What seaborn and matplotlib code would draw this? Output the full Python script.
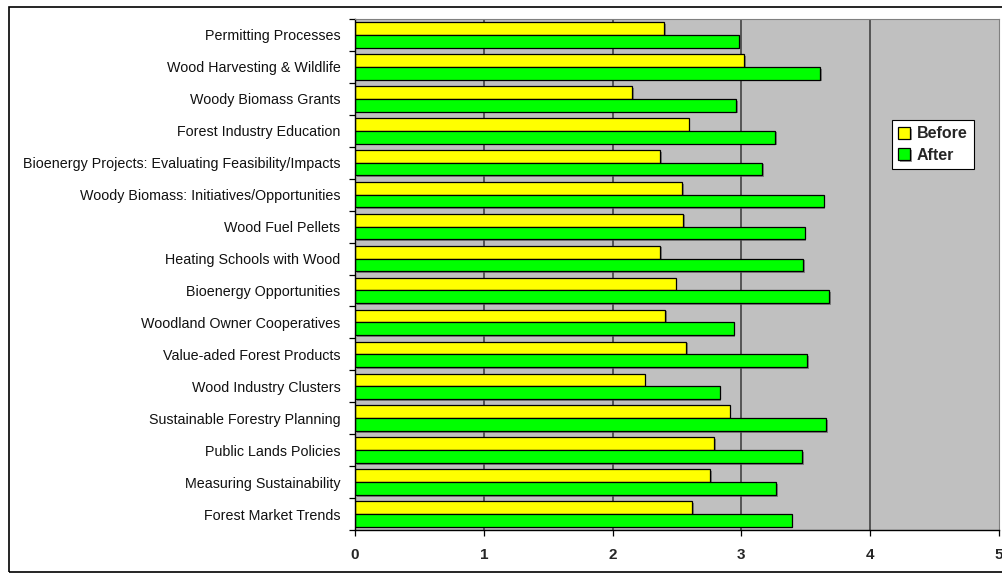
import pandas as pd
import matplotlib
matplotlib.use('Agg')
from matplotlib import pyplot as plt
from matplotlib.patches import Rectangle
from matplotlib.ticker import FixedLocator
import matplotlib.patheffects as pe
import seaborn as sns

# topics, top to bottom
topics = [
    'Permitting Processes',
    'Wood Harvesting & Wildlife',
    'Woody Biomass Grants',
    'Forest Industry Education',
    'Bioenergy Projects: Evaluating Feasibility/Impacts',
    'Woody Biomass: Initiatives/Opportunities',
    'Wood Fuel Pellets',
    'Heating Schools with Wood',
    'Bioenergy Opportunities',
    'Woodland Owner Cooperatives',
    'Value-aded Forest Products',
    'Wood Industry Clusters',
    'Sustainable Forestry Planning',
    'Public Lands Policies',
    'Measuring Sustainability',
    'Forest Market Trends',
]
before = [2.40, 3.02, 2.15, 2.59, 2.37, 2.54, 2.55, 2.37,
          2.49, 2.41, 2.57, 2.25, 2.91, 2.79, 2.76, 2.62]
after = [2.98, 3.61, 2.96, 3.26, 3.16, 3.64, 3.49, 3.48,
         3.68, 2.94, 3.51, 2.83, 3.66, 3.47, 3.27, 3.39]
x_ticks = [0, 1, 2, 3, 4, 5]

df = pd.DataFrame({
    'topic': topics * 2,
    'score': before + after,
    'when': ['Before'] * len(topics) + ['After'] * len(topics),
})

sns.set_style('white')
plt.rcParams['font.family'] = ['Liberation Sans', 'DejaVu Sans']

fig = plt.figure(figsize=(10.02, 5.77), dpi=100)
ax = fig.add_axes([355 / 1002, 1 - 530 / 577, 644 / 1002, 511 / 577])
ax.set_facecolor('#C0C0C0')

# vertical gridlines behind the bars
for v in x_ticks[1:-1]:
    ax.axvline(v, color='#555555', linewidth=1.4, zorder=0)

sns.barplot(data=df, y='topic', x='score', hue='when', orient='h',
            palette={'Before': '#FFFF00', 'After': '#00FF00'}, saturation=1,
            edgecolor='black', linewidth=0.9, width=0.8, ax=ax, zorder=2)

for bar in ax.patches:
    bar.set_path_effects([pe.SimplePatchShadow(offset=(1.2, -1.2), shadow_rgbFace='#555555', alpha=0.6),
                          pe.Normal()])

ax.set_xlim(0, 5)
ax.set_ylim(len(topics) - 0.5, -0.5)
ax.set_xticks(x_ticks)
ax.set_xticklabels([str(t) for t in x_ticks], fontsize=11, fontweight='bold')
ax.set_xlabel('')
ax.set_ylabel('')

# category labels without ticks; tick marks sit on the boundaries
ax.tick_params(axis='y', which='major', length=0, pad=10.5, labelsize=10.3, labelcolor='#111111')
ax.yaxis.set_minor_locator(FixedLocator([i - 0.5 for i in range(len(topics) + 1)]))
ax.tick_params(axis='y', which='minor', left=True, length=4, width=0.9, color='black', direction='out')
ax.tick_params(axis='x', which='major', bottom=True, length=4, width=0.9, color='black', direction='out', pad=9)

for side in ['left', 'bottom']:
    ax.spines[side].set_color('black')
    ax.spines[side].set_linewidth(1.0)
for side in ['top', 'right']:
    ax.spines[side].set_color('#808080')
    ax.spines[side].set_linewidth(0.8)

leg = ax.legend(loc='upper left', bbox_to_anchor=(892 / 1002, 1 - 120 / 577),
                bbox_transform=fig.transFigure, frameon=True, fancybox=False,
                handlelength=0.75, handleheight=0.75, handletextpad=0.4,
                borderpad=0.4, labelspacing=0.4, borderaxespad=0,
                prop={'weight': 'bold', 'size': 11.5})
leg.get_frame().set_edgecolor('black')
leg.get_frame().set_linewidth(0.8)
leg.get_frame().set_facecolor('white')
leg.get_frame().set_alpha(1)
leg.set_title(None)

# outer chart border
fig.patches.append(Rectangle((9 / 1002, 5 / 577), 1.2, 1 - 12 / 577,
                             transform=fig.transFigure, fill=False,
                             edgecolor='black', linewidth=1.2, zorder=0))

plt.savefig('out.png', dpi=100)
